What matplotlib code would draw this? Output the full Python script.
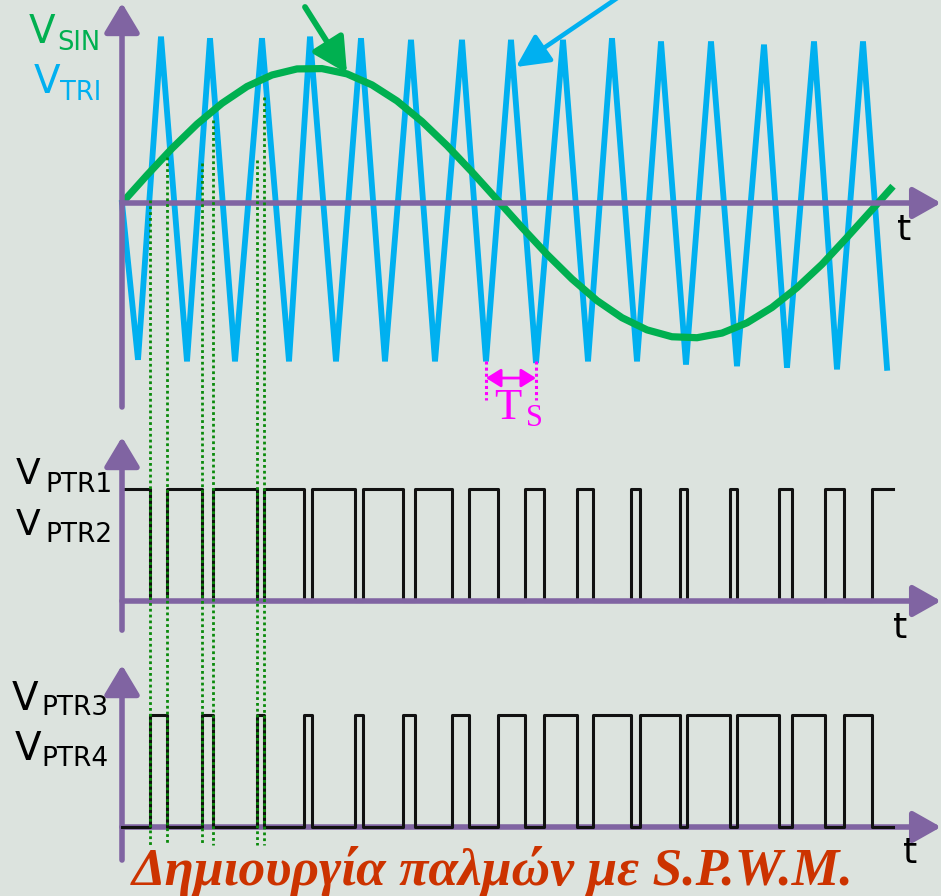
import matplotlib
matplotlib.use("Agg")
import matplotlib.pyplot as plt

W, H, DPI = 941, 896, 100
X0, TS_PX = 122, 50          # origin column and pixels per carrier period

BG = "#dce3de"
PURPLE = "#8064a2"
CYAN = "#00b0f0"
GREEN = "#00b050"
DOT_GREEN = "#0a8a0a"
MAGENTA = "#ff00ff"
TITLE_RED = "#cc3300"

# carrier (triangle) vertices, time in Ts units
TRI_T = [0, 0.32, 0.78, 1.30, 1.76, 2.26, 2.80, 3.34, 3.76, 4.28, 4.78, 5.26,
         5.78, 6.26, 6.80, 7.28, 7.78, 8.28, 8.82, 9.32, 9.80, 10.30, 10.78,
         11.28, 11.78, 12.30, 12.84, 13.30, 13.84, 14.30, 14.82, 15.30]
TRI_V = [0, -0.98, 1.04, -0.99, 1.03, -0.99, 1.03, -0.99, 1.04, -0.99, 1.03,
         -0.99, 1.02, -0.99, 1.02, -0.99, 1.02, -1.0, 1.02, -0.99, 1.03, -0.99,
         1.01, -1.01, 1.01, -1.02, 0.99, -1.03, 1.01, -1.04, 1.01, -1.03]

# modulating (sine) wave samples
SIN_T = [0, 0.5, 1.0, 1.5, 2.0, 2.5, 3.0, 3.5, 4.0, 4.5, 5.0, 5.5, 6.0, 6.5,
         7.0, 7.5, 8.0, 8.5, 9.0, 9.5, 10.0, 10.5, 11.0, 11.5, 12.0, 12.5,
         13.0, 13.5, 14.0, 14.5, 15.0, 15.42]
SIN_V = [0, 0.174, 0.341, 0.493, 0.623, 0.728, 0.800, 0.838, 0.840, 0.807,
         0.738, 0.638, 0.509, 0.359, 0.194, 0.021, -0.153, -0.321, -0.475,
         -0.610, -0.717, -0.793, -0.836, -0.842, -0.813, -0.749, -0.653,
         -0.529, -0.383, -0.215, -0.042, 0.105]

# switching instants of V_PTR1 (starts high), V_PTR3 is the complement
EDGES = [0.56, 0.90, 1.60, 1.82, 2.70, 2.84, 3.64, 3.80, 4.66, 4.82, 5.62,
         5.86, 6.60, 6.94, 7.52, 8.06, 8.44, 9.10, 9.42, 10.18, 10.36, 11.16,
         11.30, 12.16, 12.30, 13.14, 13.40, 14.06, 14.44, 15.00]
T_END = 15.42

# dotted guide lines: first six edges, top end on the carrier plot
DOT_TOP = [0.02, 0.29, 0.25, 0.52, 0.27, 0.66]
DOT_BOTTOM = -0.16           # in V_PTR3 units
TS_MARK = [7.28, 8.28]

TITLE = "Δημιουργία παλμών με S.P.W.M."

fig = plt.figure(figsize=(W / DPI, H / DPI), dpi=DPI, facecolor=BG)


def panel(row_top, row_bot, zero_row, unit):
    ax = fig.add_axes([0, 1 - row_bot / H, 1, (row_bot - row_top) / H])
    ax.set_xlim(-X0 / TS_PX, (W - X0) / TS_PX)
    ax.set_ylim((zero_row - row_bot) / unit, (zero_row - row_top) / unit)
    ax.axis("off")
    return ax


def arrow(ax, start, end, color, lw, hl, hw, z=3, style="-|>"):
    ax.annotate("", xy=end, xytext=start, annotation_clip=False, zorder=z,
                arrowprops=dict(arrowstyle=f"{style},head_length={hl},head_width={hw}",
                                color=color, lw=lw, shrinkA=0, shrinkB=0,
                                mutation_scale=20))


def ftext(x, row, s, **kw):
    fig.text(x / W, 1 - row / H, s, **kw)


x_end = (W - X0) / TS_PX

# ---- top: carrier and reference
ax1 = panel(0, 430, 203, 160)
ax2 = panel(430, 650, 601, 112)
ax3 = panel(650, 896, 827, 112)
ax1.set_zorder(3)

ax1.plot(TRI_T, TRI_V, color=CYAN, lw=4.2, solid_joinstyle="miter", zorder=2)
ax1.plot(SIN_T, SIN_V, color=GREEN, lw=5.2, solid_capstyle="butt", zorder=2.5)
arrow(ax1, (0, -1.275), (0, 1.25), PURPLE, 4, 0.9, 0.54, z=3)
arrow(ax1, (0, 0), (x_end, 0), PURPLE, 4, 0.85, 0.48, z=3)
arrow(ax1, (3.66, 1.225), (4.5, 0.81), GREEN, 4.2, 1.05, 0.55, z=4)
arrow(ax1, (9.9, 1.28), (7.88, 0.85), CYAN, 3.3, 1.0, 0.5, z=4)
for t in TS_MARK:
    ax1.plot([t, t], [-0.99, -1.23], color=MAGENTA, lw=2.2, ls=(0, (1, 1)), zorder=3)
arrow(ax1, (TS_MARK[0], -1.094), (TS_MARK[1], -1.094), MAGENTA, 2.0, 0.45, 0.28,
      z=3, style="<|-|>")

# dotted guides from the crossings down to the lower pulse train
to_ax1 = ax1.transData.inverted()
for t, top in zip(EDGES[:6], DOT_TOP):
    _, y_low = to_ax1.transform(ax3.transData.transform((t, DOT_BOTTOM)))
    ax1.plot([t, t], [top, y_low], color=DOT_GREEN, lw=2.0, ls=(0, (1, 1.1)),
             clip_on=False, zorder=5)

# ---- middle: V_PTR1 / V_PTR2
xs = [0] + EDGES + [T_END]
lev = [1 - i % 2 for i in range(len(EDGES) + 1)]
ax2.step(xs, lev + [lev[-1]], where="post", color="#111111", lw=2.2, zorder=2)
arrow(ax2, (0, -0.26), (0, 1.464), PURPLE, 4, 0.9, 0.54, z=3)
arrow(ax2, (0, 0), (x_end, 0), PURPLE, 4, 0.85, 0.48, z=3)

# ---- bottom: V_PTR3 / V_PTR4
inv = [1 - v for v in lev]
arrow(ax3, (0, -0.295), (0, 1.446), PURPLE, 4, 0.9, 0.54, z=2)
arrow(ax3, (0, 0), (x_end, 0), PURPLE, 4, 0.85, 0.48, z=2)
ax3.step(xs, inv + [inv[-1]], where="post", color="#111111", lw=2.2, zorder=3)

# ---- labels
ftext(29, 43, "V", fontsize=28, color=GREEN, va="baseline")
ftext(57, 50, "SIN", fontsize=18.5, color=GREEN, va="baseline")
ftext(34, 93, "V", fontsize=28, color=CYAN, va="baseline")
ftext(60, 100, "TRI", fontsize=18.5, color=CYAN, va="baseline")

ftext(16, 484, "V", fontsize=26, color="black", va="baseline")
ftext(45, 492, "PTR1", fontsize=19, color="black", va="baseline")
ftext(16, 535, "V", fontsize=26, color="black", va="baseline")
ftext(45, 542, "PTR2", fontsize=19, color="black", va="baseline")
ftext(12, 710, "V", fontsize=28, color="black", va="baseline")
ftext(41, 715, "PTR3", fontsize=19, color="black", va="baseline")
ftext(15, 760, "V", fontsize=28, color="black", va="baseline")
ftext(41, 766, "PTR4", fontsize=19, color="black", va="baseline")

ftext(904, 230, "t", fontsize=26, color="black", ha="center", va="center")
ftext(900, 628, "t", fontsize=26, color="black", ha="center", va="center")
ftext(910, 853, "t", fontsize=26, color="black", ha="center", va="center")

ftext(508, 419, "T", fontsize=32, color=MAGENTA, family="Liberation Serif",
      ha="center", va="baseline")
ftext(526, 426, "S", fontsize=22, color=MAGENTA, family="Liberation Serif",
      ha="left", va="baseline")

ftext(493, 885, TITLE, fontsize=38.5, color=TITLE_RED, family="Liberation Serif",
      fontweight="bold", fontstyle="italic", ha="center", va="baseline")

fig.savefig("out.png", dpi=DPI, facecolor=BG)
